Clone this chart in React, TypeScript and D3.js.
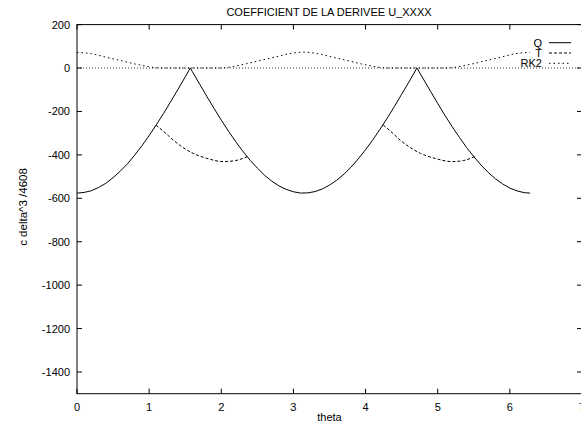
import React from "react";
import * as d3 from "d3";

const W = 581;
const H = 426;

const titleText = "COEFFICIENT DE LA DERIVEE U_XXXX";
const xLabelText = "theta";
const yLabelText = "c delta^3 /4608";

const xTicks = [0, 1, 2, 3, 4, 5, 6, 7];
const yTicks = [200, 0, -200, -400, -600, -800, -1000, -1200, -1400];

// Q series (solid)
const qTheta = [
  0.0, 0.1, 0.2, 0.3, 0.4, 0.5, 0.6, 0.7, 0.8, 0.9, 1.0, 1.1, 1.2, 1.3, 1.4, 1.5, 1.5708,
  1.6, 1.7, 1.8, 1.9, 2.0, 2.1, 2.2, 2.3, 2.4, 2.5, 2.6, 2.7, 2.8, 2.9, 3.0, 3.1, 3.2,
  3.3, 3.4, 3.5, 3.6, 3.7, 3.8, 3.9, 4.0, 4.1, 4.2, 4.3, 4.4, 4.5, 4.6, 4.7, 4.7124,
  4.8, 4.9, 5.0, 5.1, 5.2, 5.3, 5.4, 5.5, 5.6, 5.7, 5.8, 5.9, 6.0, 6.1, 6.2, 6.28,
];
const qValue = [
  -576, -573, -565, -550, -531, -505, -475, -441, -401, -358, -311, -261, -209, -154, -98, -41, 0,
  -17, -74, -131, -186, -240, -291, -339, -384, -425, -461, -494, -521, -543, -559, -570, -576, -575,
  -569, -557, -539, -517, -489, -456, -418, -376, -331, -282, -231, -177, -121, -65, -7, 0,
  -50, -107, -163, -218, -270, -319, -366, -408, -447, -481, -510, -534, -553, -566, -574, -576,
];

// T series (dashed) — parts that depart from Q
const tTheta1 = [1.095, 1.2, 1.335, 1.45, 1.61, 1.8, 2.03, 2.2, 2.36];
const tValue1 = [-263, -292, -332, -362, -393, -416, -431, -426, -408];
const tTheta2 = [4.245, 4.35, 4.48, 4.6, 4.76, 4.96, 5.2, 5.36, 5.51];
const tValue2 = [-263, -292, -332, -362, -393, -416, -431, -426, -408];

// RK2 series (dotted)
const rkTheta = [
  0, 0.2, 0.4, 0.6, 0.8, 1.0, 1.1, 1.2, 1.94, 2.04, 2.14, 2.34, 2.54, 2.74, 2.94, 3.14,
  3.34, 3.54, 3.74, 3.94, 4.14, 4.24, 4.34, 5.08, 5.18, 5.28, 5.48, 5.68, 5.88, 6.08, 6.28,
];
const rkValue = [
  72, 66, 50, 35, 19, 6, 1, 0, 0, 1, 6, 19, 35, 50, 66, 73,
  66, 50, 35, 19, 6, 1, 0, 0, 1, 6, 19, 35, 50, 66, 72,
];

const legendNames = ["Q", "T", "RK2"];
const legendDash = ["none", "3,2", "1.5,3"];

export default function App() {
  const left = 77;
  const right = 582;
  const top = 24.6;
  const bottom = 393.7;

  const x = d3.scaleLinear().domain([0, 7]).range([left, right]);
  const y = d3.scaleLinear().domain([-1500, 200]).range([bottom, top]);

  const linear = d3
    .line<[number, number]>()
    .x((d) => x(d[0]))
    .y((d) => y(d[1]))
    .curve(d3.curveLinear);
  const smooth = d3
    .line<[number, number]>()
    .x((d) => x(d[0]))
    .y((d) => y(d[1]))
    .curve(d3.curveMonotoneX);

  const zip = (a: number[], b: number[]) => a.map((v, i) => [v, b[i]] as [number, number]);

  const qPath = linear(zip(qTheta, qValue)) || "";
  const t1Path = smooth(zip(tTheta1, tValue1)) || "";
  const t2Path = smooth(zip(tTheta2, tValue2)) || "";
  const rkPath = smooth(zip(rkTheta, rkValue)) || "";

  const font = "'Liberation Sans', Arial, Helvetica, sans-serif";
  const tick = 5;

  return (
    <svg
      width={W}
      height={H}
      style={{ position: "absolute", left: 0, top: 0, background: "#fff" }}
      fontFamily={font}
      fontSize={11}
    >
      <rect x={0} y={0} width={W} height={H} fill="#fff" />
      {/* zero axis */}
      <line x1={left} x2={right} y1={y(0)} y2={y(0)} stroke="#000" strokeWidth={0.8} strokeDasharray="1,2" />

      {/* curves */}
      <path d={rkPath} fill="none" stroke="#000" strokeWidth={1} strokeDasharray="1.5,3" />
      <path d={t1Path} fill="none" stroke="#000" strokeWidth={1} strokeDasharray="3,2" />
      <path d={t2Path} fill="none" stroke="#000" strokeWidth={1} strokeDasharray="3,2" />
      <path d={qPath} fill="none" stroke="#000" strokeWidth={1} />

      {/* border */}
      <rect x={left} y={top} width={right - left} height={bottom - top} fill="none" stroke="#000" strokeWidth={1} />

      {/* x ticks */}
      {xTicks.map((t) => (
        <g key={"x" + t}>
          <line x1={x(t)} x2={x(t)} y1={bottom} y2={bottom - tick} stroke="#000" />
          <line x1={x(t)} x2={x(t)} y1={top} y2={top + tick} stroke="#000" />
          <text x={x(t)} y={411} textAnchor="middle" fill="#000">
            {t}
          </text>
        </g>
      ))}

      {/* y ticks */}
      {yTicks.map((t) => (
        <g key={"y" + t}>
          <line x1={left} x2={left + tick} y1={y(t)} y2={y(t)} stroke="#000" />
          <line x1={right} x2={right - tick} y1={y(t)} y2={y(t)} stroke="#000" />
          <text x={70} y={y(t) + 4} textAnchor="end" fill="#000">
            {t}
          </text>
        </g>
      ))}

      {/* title */}
      <text x={329} y={16} textAnchor="middle" fill="#000">
        {titleText}
      </text>
      {/* x label */}
      <text x={329.5} y={421} textAnchor="middle" fill="#000">
        {xLabelText}
      </text>
      {/* y label */}
      <text
        transform={`translate(26.5,207) rotate(-90)`}
        textAnchor="middle"
        fill="#000"
        fontSize={11.5}
      >
        {yLabelText}
      </text>

      {/* legend */}
      {legendNames.map((n, i) => {
        const cy = 42.7 + i * 10.3;
        return (
          <g key={n}>
            <text x={542} y={cy + 4} textAnchor="end" fill="#000">
              {n}
            </text>
            <line
              x1={549}
              x2={571}
              y1={cy}
              y2={cy}
              stroke="#000"
              strokeWidth={1}
              strokeDasharray={legendDash[i]}
            />
          </g>
        );
      })}
    </svg>
  );
}
